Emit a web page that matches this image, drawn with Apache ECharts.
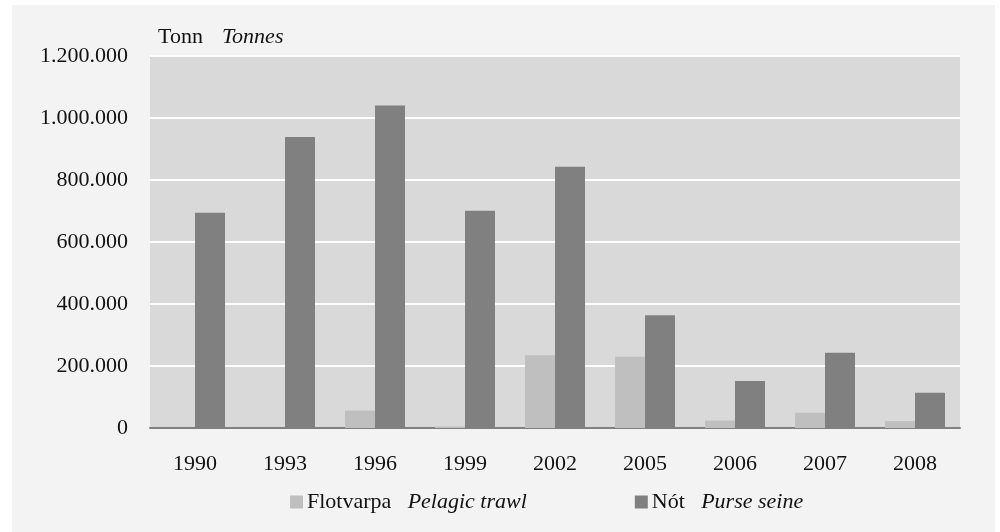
<!DOCTYPE html>
<html>
<head>
<meta charset="utf-8">
<script src="https://cdn.jsdelivr.net/npm/echarts@6/dist/echarts.min.js"></script>
<style>
  html, body { margin: 0; padding: 0; background: #ffffff; }
  .page { position: relative; width: 1000px; height: 532px; }
  #catchChart { position: absolute; left: 12px; top: 5px; width: 983px; height: 527px; }
</style>
</head>
<body>
<div class="page"><div id="catchChart"></div></div>
<script>
var years = ["1990", "1993", "1996", "1999", "2002", "2005", "2006", "2007", "2008"];
var pelagicTrawl = [0, 0, 56000, 5000, 235000, 230000, 24000, 49000, 22000];
var purseSeine = [694000, 939000, 1040000, 701000, 843000, 364000, 152000, 243000, 114000];
var yTicks = [0, 200000, 400000, 600000, 800000, 1000000, 1200000];

var serif = "Liberation Serif";

function dotted(v) {
  return String(v).replace(/\B(?=(\d{3})+(?!\d))/g, ".");
}

var myChart = echarts.init(document.getElementById("catchChart"));

myChart.setOption({
  backgroundColor: "#f2f3f2",
  animation: false,
  title: {
    text: "{a|Tonn} {b|Tonnes}",
    left: 141,
    top: 16,
    textStyle: {
      fontWeight: "normal",
      rich: {
        a: { fontFamily: serif, fontSize: 22, fontWeight: "normal", color: "#111" },
        b: { fontFamily: serif, fontSize: 22, fontWeight: "normal", fontStyle: "italic", color: "#111", padding: [0, 0, 0, 14] }
      }
    }
  },
  legend: {
    left: 273,
    top: 481,
    itemWidth: 13,
    itemHeight: 13,
    itemGap: 108,
    icon: "rect",
    data: ["Flotvarpa", "Nót"],
    formatter: function (name) {
      return name === "Flotvarpa" ? "{a|Flotvarpa} {b|Pelagic trawl}" : "{a|Nót} {b|Purse seine}";
    },
    textStyle: {
      padding: [0, 0, 0, -1],
      rich: {
        a: { fontFamily: serif, fontSize: 22, color: "#111" },
        b: { fontFamily: serif, fontSize: 22, fontStyle: "italic", color: "#111", padding: [0, 0, 0, 13] }
      }
    }
  },
  grid: {
    left: 138,
    right: 35,
    top: 51,
    bottom: 104,
    show: true,
    backgroundColor: "#d9d9d9",
    borderWidth: 0
  },
  xAxis: {
    type: "category",
    data: years,
    axisTick: { show: false },
    axisLine: { lineStyle: { color: "#808080", width: 2 } },
    axisLabel: { fontFamily: serif, fontSize: 22, color: "#111", margin: 25 }
  },
  yAxis: {
    type: "value",
    min: yTicks[0],
    max: yTicks[yTicks.length - 1],
    interval: 200000,
    axisLine: { show: false },
    axisTick: { show: false },
    splitLine: { lineStyle: { color: "#ffffff", width: 2 } },
    axisLabel: {
      fontFamily: serif,
      fontSize: 22,
      color: "#111",
      margin: 22,
      formatter: function (v) { return dotted(v); }
    }
  },
  series: [
    {
      name: "Flotvarpa",
      type: "bar",
      data: pelagicTrawl,
      barWidth: 30,
      barGap: "0%",
      itemStyle: { color: "#bfbfbf" }
    },
    {
      name: "Nót",
      type: "bar",
      data: purseSeine,
      barWidth: 30,
      barGap: "0%",
      itemStyle: { color: "#808080" }
    }
  ]
});
</script>
</body>
</html>
